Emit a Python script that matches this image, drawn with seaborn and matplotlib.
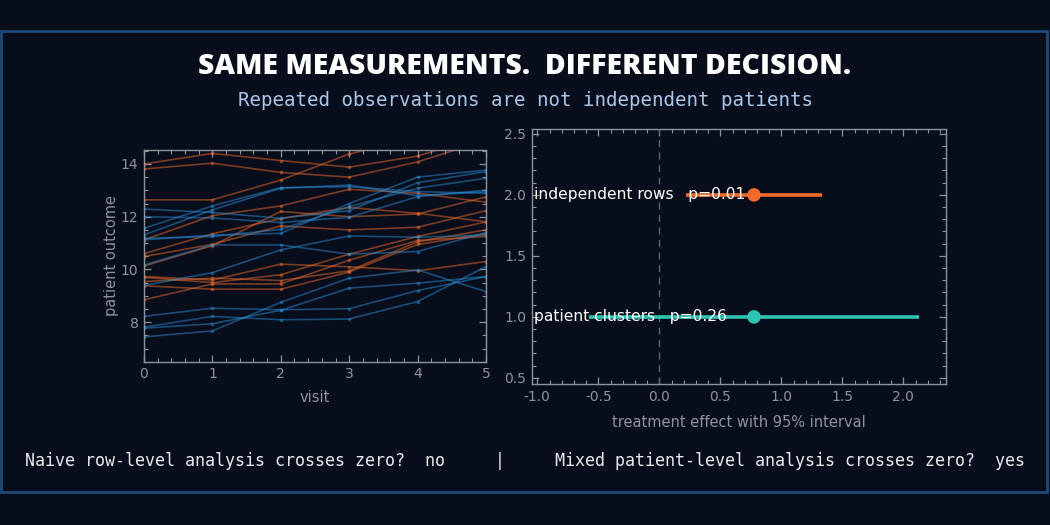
import numpy as np
import pandas as pd
import matplotlib
matplotlib.use("Agg")
import matplotlib.pyplot as plt
from matplotlib.patches import Rectangle
from matplotlib.ticker import MultipleLocator, FormatStrFormatter
import seaborn as sns

# ---- data ----
visits = [0, 1, 2, 3, 4, 5]

# orange patients (treated)
treated_outcomes = [
    [14.00, 14.40, 14.13, 13.88, 14.30, 15.10],
    [13.81, 14.03, 13.68, 13.50, 14.08, 14.90],
    [12.64, 12.64, 13.39, 14.38, 15.00, 15.50],
    [11.12, 12.04, 12.41, 13.04, 12.89, 12.55],
    [10.60, 11.35, 11.93, 12.35, 12.13, 11.81],
    [10.49, 10.95, 11.65, 11.50, 11.60, 12.23],
    [10.13, 10.90, 12.20, 12.00, 12.10, 12.75],
    [9.73, 9.60, 10.20, 10.10, 9.95, 10.30],
    [9.70, 9.50, 9.80, 10.58, 11.25, 11.80],
    [9.54, 9.67, 9.58, 9.95, 11.05, 11.50],
    [9.38, 9.25, 9.25, 9.90, 10.95, 11.35],
    [8.85, 9.45, 9.45, 10.35, 11.10, 11.25],
]

# blue patients (control)
control_outcomes = [
    [12.29, 12.16, 11.94, 12.23, 13.29, 13.71],
    [12.00, 11.95, 11.78, 11.98, 12.76, 13.01],
    [11.56, 12.41, 13.10, 13.14, 12.95, 12.89],
    [11.31, 12.26, 13.08, 13.20, 12.80, 12.95],
    [11.18, 11.25, 11.52, 12.38, 13.08, 13.46],
    [11.12, 11.30, 11.37, 12.50, 13.50, 13.77],
    [10.17, 10.93, 10.93, 10.58, 10.68, 11.40],
    [9.39, 9.88, 10.74, 11.27, 11.22, 11.30],
    [8.22, 8.53, 8.47, 8.51, 9.20, 9.73],
    [7.81, 8.22, 8.09, 8.12, 8.78, 10.11],
    [7.77, 7.94, 8.45, 9.29, 9.48, 9.73],
    [7.44, 7.67, 8.75, 9.67, 9.98, 9.16],
]

models = ["patient clusters", "independent rows"]
model_y = [1.0, 2.0]
effects = [0.776, 0.776]
ci_low = [-0.574, 0.219]
ci_high = [2.13, 1.336]
p_labels = ["p=0.26", "p=0.01"]
model_colors = ["#2ec4b4", "#f26b2d"]

footer = ("Naive row-level analysis crosses zero?  no     |     "
          "Mixed patient-level analysis crosses zero?  yes")

# ---- build long table ----
rows = []
for i, ys in enumerate(treated_outcomes):
    for v, y in zip(visits, ys):
        rows.append({"patient": f"t{i}", "group": "treated", "visit": v, "outcome": y})
for i, ys in enumerate(control_outcomes):
    for v, y in zip(visits, ys):
        rows.append({"patient": f"c{i}", "group": "control", "visit": v, "outcome": y})
df = pd.DataFrame(rows)

eff = pd.DataFrame({"model": models, "y": model_y, "effect": effects,
                    "lo": ci_low, "hi": ci_high})

# ---- style ----
bg = "#070d1a"
grey = "#8e939c"
sns.set_theme(style="ticks")
plt.rcParams.update({
    "figure.facecolor": bg,
    "axes.facecolor": bg,
    "axes.edgecolor": grey,
    "axes.labelcolor": grey,
    "xtick.color": grey,
    "ytick.color": grey,
    "font.family": ["DejaVu Sans"],
})

fig = plt.figure(figsize=(10.5, 5.25), dpi=100)
fig.add_artist(Rectangle((1 / 1050, 33 / 525), 1046 / 1050, 461 / 525,
                         transform=fig.transFigure, fill=False,
                         edgecolor="#1d4a78", lw=2))

fig.text(0.5, 1 - 66 / 525, "SAME MEASUREMENTS.  DIFFERENT DECISION.",
         ha="center", va="center", color="white", fontsize=20.4,
         family="Open Sans", weight="heavy")
fig.text(0.5, 1 - 100 / 525, "Repeated observations are not independent patients",
         ha="center", va="center", color="#a9c6ea", fontsize=13.8,
         family="DejaVu Sans Mono")
fig.text(25 / 1050, 1 - 461 / 525, footer, ha="left", va="center",
         color="#e8eaee", fontsize=11.97, family="DejaVu Sans Mono")


def style_axes(ax, pad=4):
    for s in ax.spines.values():
        s.set_visible(True)
        s.set_color(grey)
        s.set_linewidth(1)
    ax.tick_params(which="both", direction="in", top=True, right=True,
                   labelsize=10, colors=grey, pad=pad)
    ax.tick_params(which="major", length=5, width=0.9)
    ax.tick_params(which="minor", length=3, width=0.8)


# ---- left: spaghetti ----
ax1 = fig.add_axes([144 / 1050, 1 - 361.7 / 525, 342 / 1050, 211.7 / 525])
sns.lineplot(data=df, x="visit", y="outcome", hue="group", units="patient",
             estimator=None, palette={"treated": "#f26b2d", "control": "#2b8cd6"},
             alpha=0.5, lw=1.2, marker="o", markersize=2.6, markeredgewidth=0,
             legend=False, ax=ax1)
ax1.set_xlim(0, 5)
ax1.set_ylim(6.5, 14.53)
ax1.xaxis.set_major_locator(MultipleLocator(1))
ax1.xaxis.set_minor_locator(MultipleLocator(0.2))
ax1.yaxis.set_major_locator(MultipleLocator(2))
ax1.yaxis.set_minor_locator(MultipleLocator(0.5))
ax1.set_xlabel("visit", fontsize=10.5, color=grey, labelpad=6.5)
ax1.set_ylabel("patient outcome", fontsize=10.5, color=grey, labelpad=1)
style_axes(ax1, pad=4)

# ---- right: effect intervals ----
ax2 = fig.add_axes([531.7 / 1050, 1 - 384 / 525, 414.3 / 1050, 255 / 525])
ax2.axvline(0, color="#5d6470", lw=1, ls=(0, (5, 4)), zorder=1)
ax2.hlines(eff["y"], eff["lo"], eff["hi"], colors=model_colors, lw=2.6, zorder=2)
sns.scatterplot(data=eff, x="effect", y="y", hue="model",
                palette=dict(zip(models, model_colors)), s=95, linewidth=0,
                legend=False, zorder=3, ax=ax2)
for m, yv, p in zip(models, model_y, p_labels):
    ax2.text(-1.03, yv, f"{m}   {p}", color="white", fontsize=11.2,
             ha="left", va="center", zorder=4)
ax2.set_xlim(-1.046, 2.35)
ax2.set_ylim(0.45, 2.54)
ax2.xaxis.set_major_locator(MultipleLocator(0.5))
ax2.xaxis.set_minor_locator(MultipleLocator(0.1))
ax2.yaxis.set_major_locator(MultipleLocator(0.5))
ax2.yaxis.set_minor_locator(MultipleLocator(0.1))
ax2.xaxis.set_major_formatter(FormatStrFormatter("%.1f"))
ax2.yaxis.set_major_formatter(FormatStrFormatter("%.1f"))
ax2.set_xlabel("treatment effect with 95% interval", fontsize=10.5, color=grey, labelpad=8)
ax2.set_ylabel("")
style_axes(ax2, pad=4)

fig.savefig("out.png", dpi=100, facecolor=bg)
